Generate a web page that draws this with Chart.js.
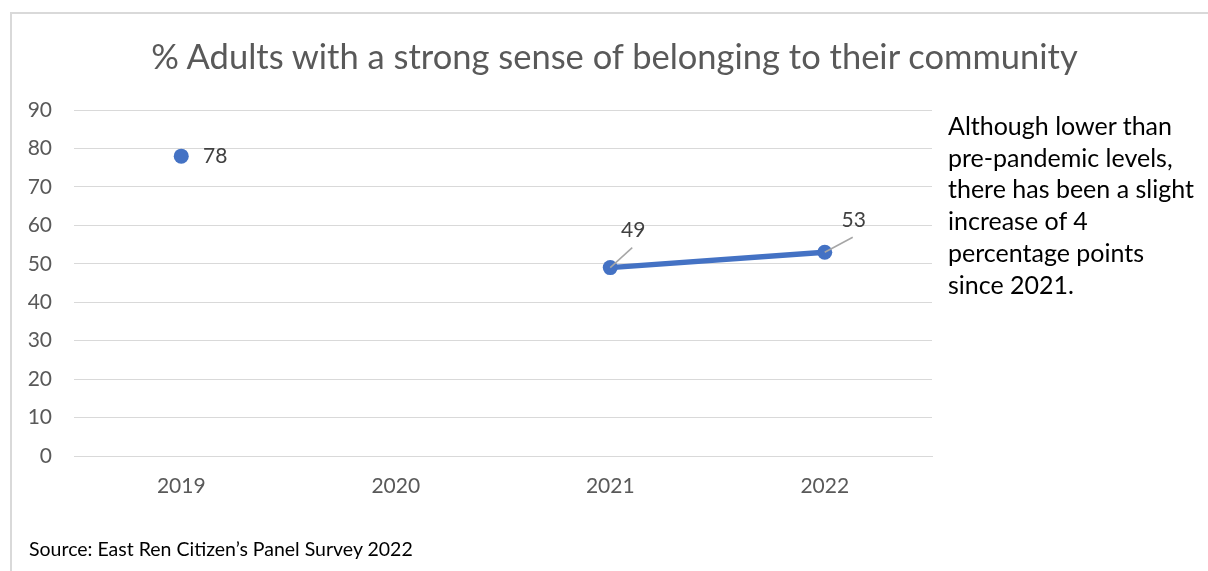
<!DOCTYPE html>
<html>
<head>
<meta charset="utf-8">
<script src="https://cdn.jsdelivr.net/npm/chart.js@4/dist/chart.umd.min.js"></script>
<style>
  html, body { margin: 0; padding: 0; background: #fff; }
  #wrap { position: relative; width: 1208px; height: 571px; overflow: hidden; }
  #frame {
    position: absolute; left: 10px; top: 12px; width: 1300px; height: 600px;
    border-left: 2px solid #d9d9d9; border-top: 2px solid #d9d9d9;
  }
  #chart { position: absolute; left: 0; top: 0; }
  #title {
    position: absolute; left: 0; width: 1229px; top: 35px; text-align: center; white-space: nowrap;
    font-family: Lato, sans-serif; font-size: 34.5px; line-height: 42px; color: #595959;
  }
  #note {
    position: absolute; left: 948px; top: 110px; width: 260px; white-space: nowrap;
    font-family: Lato, sans-serif; font-size: 25px; line-height: 31.7px; color: #000;
  }
  #source {
    position: absolute; left: 29px; top: 537px; white-space: nowrap;
    font-family: Lato, sans-serif; font-size: 19.5px; line-height: 24px; color: #000;
  }
</style>
</head>
<body>
<div id="wrap">
  <div id="frame"></div>
  <canvas id="chart" width="1208" height="571"></canvas>
  <div id="title"></div>
  <div id="note">Although lower than<br>pre-pandemic levels,<br>there has been a slight<br>increase of 4<br>percentage points<br>since 2021.</div>
  <div id="source">Source: East Ren Citizen’s Panel Survey 2022</div>
</div>
<script>
const years = ["2019", "2020", "2021", "2022"];
const belonging = [78, null, 49, 53];
const chartTitle = "% Adults with a strong sense of belonging to their community";

document.getElementById("title").textContent = chartTitle;

// label offsets relative to each point (dx, dy), and whether a leader line is drawn
const labelPos = [
  { dx: 34, dy: 0, leader: false },
  null,
  { dx: 23, dy: -37, leader: true },
  { dx: 29, dy: -32, leader: true },
];

const pointLabels = {
  id: "pointLabels",
  afterDatasetsDraw(chart) {
    const ctx = chart.ctx;
    const meta = chart.getDatasetMeta(0);
    ctx.save();
    ctx.font = "21px Lato";
    ctx.fillStyle = "#404040";
    ctx.textAlign = "center";
    ctx.textBaseline = "middle";
    meta.data.forEach((pt, i) => {
      const v = belonging[i];
      const p = labelPos[i];
      if (v === null || !p) return;
      const lx = pt.x + p.dx;
      const ly = pt.y + p.dy;
      if (p.leader) {
        ctx.strokeStyle = "#a6a6a6";
        ctx.lineWidth = 1.5;
        ctx.beginPath();
        ctx.moveTo(pt.x, pt.y);
        ctx.lineTo(lx - 1, ly + 17);
        ctx.stroke();
      }
      ctx.fillText(String(v), lx, ly);
    });
    ctx.restore();
  },
};

const ctx = document.getElementById("chart").getContext("2d");
new Chart(ctx, {
  type: "line",
  data: {
    labels: years,
    datasets: [
      {
        data: belonging,
        borderColor: "#4472c4",
        backgroundColor: "#4472c4",
        borderWidth: 5.5,
        pointRadius: 7.5,
        pointBorderWidth: 0,
        pointBackgroundColor: "#4472c4",
        spanGaps: false,
        tension: 0,
      },
    ],
  },
  options: {
    responsive: false,
    animation: false,
    layout: { padding: { left: 10, right: 276, top: 110, bottom: 63 } },
    plugins: {
      legend: { display: false },
      tooltip: { enabled: false },
      title: { display: false },
    },
    scales: {
      x: {
        offset: true,
        afterFit(scale) { scale.height = 52; },
        grid: { display: false, drawTicks: false },
        border: { display: true, color: "#d9d9d9", width: 1 },
        ticks: { color: "#595959", font: { family: "Lato", size: 21 }, padding: 18, maxRotation: 0 },
      },
      y: {
        min: 0,
        max: 90,
        afterFit(scale) { scale.width = 64; },
        grid: { color: "#d9d9d9", lineWidth: 1, drawTicks: false },
        border: { display: false },
        ticks: { stepSize: 10, color: "#595959", font: { family: "Lato", size: 21 }, padding: 22 },
      },
    },
  },
  plugins: [pointLabels],
});
</script>
</body>
</html>
